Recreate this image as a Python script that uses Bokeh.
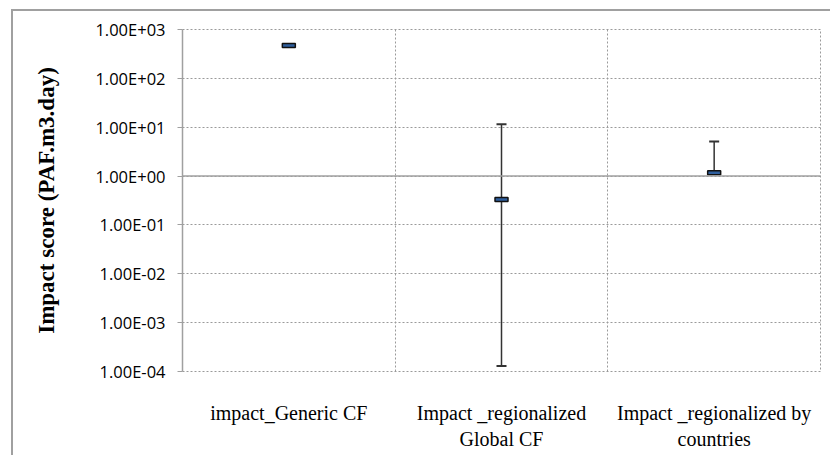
from bokeh.plotting import figure
from bokeh.models import ColumnDataSource, FixedTicker, Whisker, TeeHead, Span
from bokeh.embed import file_html
from bokeh.resources import INLINE

categories = ["impact_Generic CF", "Impact _regionalized\nGlobal CF",
              "Impact _regionalized by\ncountries"]
x_pos = [0.5, 1.5, 2.5]
mean_vals = [470.0, 0.33, 1.17]
upper_vals = [470.0, 11.5, 5.1]
lower_vals = [470.0, 0.00013, 1.17]

y_ticks = [0.0001, 0.001, 0.01, 0.1, 1, 10, 100, 1000]
y_tick_labels = ["1.00E-04", "1.00E-03", "1.00E-02", "1.00E-01",
                 "1.00E+00", "1.00E+01", "1.00E+02", "1.00E+03"]

p = figure(width=819, height=446, output_backend="svg", toolbar_location=None,
           y_axis_type="log", x_range=(0, 3), y_range=(1e-4, 1e3),
           min_border_left=169, min_border_right=12, min_border_top=18,
           min_border_bottom=86)
p.styles = {"margin-left": "11px", "margin-top": "9px",
            "border-left": "2px solid #a0a0a0", "border-top": "2px solid #a0a0a0"}
p.background_fill_color = "white"
p.border_fill_color = "white"
p.outline_line_color = "#9a9a9a"
p.outline_line_dash = "2 2"

# y axis
p.yaxis.ticker = FixedTicker(ticks=y_ticks, minor_ticks=[])
p.yaxis.major_label_overrides = {t: l for t, l in zip(y_ticks, y_tick_labels)}
p.yaxis.axis_line_color = "#a0a0a0"
p.yaxis.axis_line_width = 1.5
p.yaxis.major_tick_line_color = "#a0a0a0"
p.yaxis.major_tick_out = 5
p.yaxis.major_tick_in = 0
p.yaxis.minor_tick_line_color = None
p.yaxis.major_label_standoff = 12
p.yaxis.major_label_text_font = "Open Sans"
p.yaxis.major_label_text_font_size = "16.5px"
p.yaxis.major_label_text_color = "black"
p.yaxis.axis_label = "Impact score (PAF.m3.day)"
p.yaxis.axis_label_text_font = "Liberation Serif"
p.yaxis.axis_label_text_font_style = "bold"
p.yaxis.axis_label_text_font_size = "23px"
p.yaxis.axis_label_text_color = "black"
p.yaxis.axis_label_standoff = 33

# x axis
p.xaxis.ticker = FixedTicker(ticks=x_pos)
p.xaxis.major_label_overrides = {x: c for x, c in zip(x_pos, categories)}
p.xaxis.axis_line_color = None
p.xaxis.major_tick_line_color = None
p.xaxis.minor_tick_line_color = None
p.xaxis.major_label_standoff = 24
p.xaxis.major_label_text_font = "Liberation Serif"
p.xaxis.major_label_text_font_size = "20px"
p.xaxis.major_label_text_color = "black"

# grids
p.ygrid.ticker = FixedTicker(ticks=y_ticks)
p.ygrid.grid_line_color = "#9a9a9a"
p.ygrid.grid_line_dash = "2 2"
p.xgrid.ticker = FixedTicker(ticks=[1, 2, 3])
p.xgrid.grid_line_color = "#9a9a9a"
p.xgrid.grid_line_dash = "2 2"

# horizontal axis crossing at 1
p.add_layout(Span(location=1, dimension="width", line_color="#a0a0a0", line_width=1.5))

src = ColumnDataSource(dict(x=x_pos, mean=mean_vals, upper=upper_vals, lower=lower_vals))
w = Whisker(source=src, base="x", upper="upper", lower="lower",
            line_color="#333333", line_width=1.5,
            upper_head=TeeHead(size=10, line_color="#333333", line_width=2),
            lower_head=TeeHead(size=10, line_color="#333333", line_width=2))
p.add_layout(w)

p.rect(x="x", y="mean", width=13, height=4, width_units="screen", height_units="screen",
       source=src, fill_color="#2f5f9e", line_color="#111111", line_width=1.5)

open("out.html", "w").write(file_html(p, INLINE))
